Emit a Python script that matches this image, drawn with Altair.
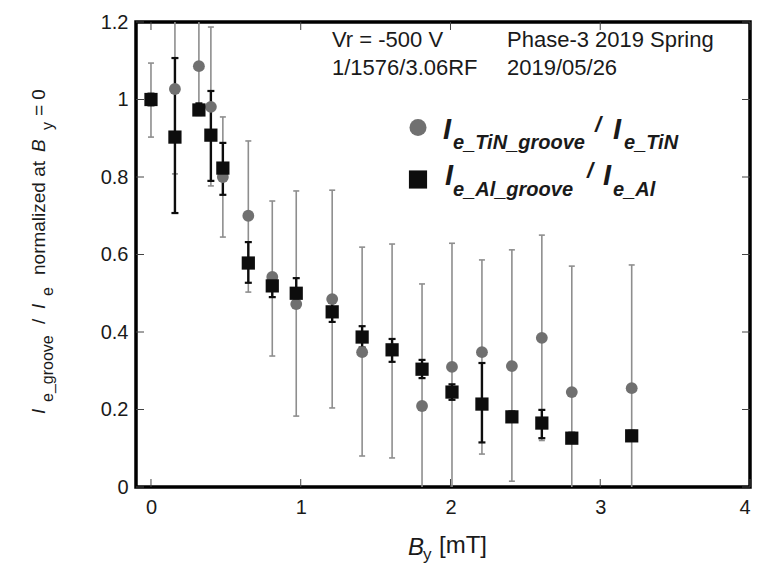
import altair as alt
import pandas as pd

# ---------------- data ----------------
b_y = [0, 0.16, 0.32, 0.40, 0.48, 0.65, 0.81, 0.97, 1.21, 1.41, 1.61, 1.81, 2.01, 2.21, 2.41, 2.61, 2.81, 3.21]

tin = [1.0, 1.027, 1.086, 0.981, 0.80, 0.70, 0.542, 0.472, 0.485, 0.348, 0.355, 0.209, 0.31, 0.348, 0.312, 0.385, 0.245, 0.255]
tin_lo = [0.903, 0.808, 0.96, 0.777, 0.645, 0.503, 0.338, 0.183, 0.204, 0.080, 0.075, -0.10, -0.01, 0.085, 0.015, 0.12, -0.08, -0.06]
tin_hi = [1.094, 1.25, 1.30, 1.187, 0.955, 0.893, 0.738, 0.764, 0.766, 0.619, 0.627, 0.524, 0.629, 0.586, 0.612, 0.65, 0.570, 0.573]

al = [1.0, 0.903, 0.973, 0.908, 0.823, 0.578, 0.519, 0.50, 0.452, 0.387, 0.354, 0.304, 0.245, 0.214, 0.181, 0.165, 0.126, 0.132]
al_lo = [0.985, 0.707, 0.96, 0.79, 0.754, 0.527, 0.49, 0.465, 0.426, 0.36, 0.323, 0.281, 0.225, 0.115, 0.17, 0.126, 0.115, 0.12]
al_hi = [1.015, 1.107, 0.99, 1.022, 0.888, 0.632, 0.545, 0.539, 0.475, 0.415, 0.382, 0.328, 0.265, 0.32, 0.195, 0.199, 0.14, 0.145]

x_ticks = [0, 1, 2, 3, 4]
y_ticks = [0, 0.2, 0.4, 0.6, 0.8, 1.0, 1.2]

# ---------------- styling ----------------
W, H = 614, 465
FONT = "Liberation Sans"
GRAY_PT = "#707070"
GRAY_BAR = "#8e8e8e"
DARK = "#0d0d0d"
TXT = "#1a1a1a"

df = pd.DataFrame(dict(b=b_y, tin=tin, tin_lo=tin_lo, tin_hi=tin_hi,
                       al=al, al_lo=al_lo, al_hi=al_hi))

xs = alt.Scale(domain=[-0.1, 4.0], nice=False, zero=False)
ys = alt.Scale(domain=[0, 1.2], nice=False, zero=False)

x_axis = alt.Axis(values=x_ticks, format="~g", title=None, ticks=False, domain=False,
                  grid=False, labelFontSize=20, labelFont=FONT, labelColor=TXT,
                  labelPadding=10)
y_axis = alt.Axis(values=y_ticks, format="~g", title=None, ticks=False, domain=False,
                  grid=False, labelFontSize=20, labelFont=FONT, labelColor=TXT,
                  labelPadding=8)


def X(f):
    return alt.X(f"{f}:Q", scale=xs, axis=x_axis)


def Y(f):
    return alt.Y(f"{f}:Q", scale=ys, axis=y_axis)


base = alt.Chart(df)

# error bars
tin_bar = base.mark_rule(color=GRAY_BAR, strokeWidth=1.6, clip=True).encode(
    x=X("b"), y=Y("tin_lo"), y2="tin_hi:Q")
tin_cap_lo = base.mark_rule(color=GRAY_BAR, strokeWidth=1.6, xOffset=-3, x2Offset=3, clip=True).encode(
    x=X("b"), x2="b:Q", y=Y("tin_lo"))
tin_cap_hi = base.mark_rule(color=GRAY_BAR, strokeWidth=1.6, xOffset=-3, x2Offset=3, clip=True).encode(
    x=X("b"), x2="b:Q", y=Y("tin_hi"))

al_bar = base.mark_rule(color=DARK, strokeWidth=2.4, clip=True).encode(
    x=X("b"), y=Y("al_lo"), y2="al_hi:Q")
al_cap_lo = base.mark_rule(color=DARK, strokeWidth=2.2, xOffset=-3.5, x2Offset=3.5, clip=True).encode(
    x=X("b"), x2="b:Q", y=Y("al_lo"))
al_cap_hi = base.mark_rule(color=DARK, strokeWidth=2.2, xOffset=-3.5, x2Offset=3.5, clip=True).encode(
    x=X("b"), x2="b:Q", y=Y("al_hi"))

tin_pts = base.mark_point(shape="circle", filled=True, color=GRAY_PT, opacity=1, size=140, clip=True).encode(
    x=X("b"), y=Y("tin"))
al_pts = base.mark_point(shape="square", filled=True, color=DARK, opacity=1, size=175, clip=True).encode(
    x=X("b"), y=Y("al"))

# inward ticks on all four sides
xt = alt.Chart(pd.DataFrame({"t": x_ticks}))
yt = alt.Chart(pd.DataFrame({"t": y_ticks}))
tick_style = dict(color="#444", strokeWidth=1)
ticks = [
    xt.mark_rule(**tick_style).encode(x=X("t"), y=alt.value(H), y2=alt.value(H - 8)),
    xt.mark_rule(**tick_style).encode(x=X("t"), y=alt.value(0), y2=alt.value(8)),
    yt.mark_rule(**tick_style).encode(y=Y("t"), x=alt.value(0), x2=alt.value(8)),
    yt.mark_rule(**tick_style).encode(y=Y("t"), x=alt.value(W), x2=alt.value(W - 8)),
]

one = alt.Chart(pd.DataFrame({"_": [0]}))


def txt(s, x, y, size=22, font=FONT, style="normal", weight="normal", angle=0, color=TXT):
    kw = dict(text=s, font=font, fontSize=size, fontStyle=style, fontWeight=weight,
              align="left", baseline="alphabetic", color=color)
    if angle:
        kw["angle"] = angle
    return one.mark_text(**kw).encode(x=alt.value(x), y=alt.value(y))


texts = [
    # annotation block
    txt("Vr = -500 V", 196, 25),
    txt("1/1576/3.06RF", 196, 53),
    txt("Phase-3 2019 Spring", 371, 25),
    txt("2019/05/26", 371, 53),
    # legend row 1
    txt("I", 307, 117, size=29, style="italic", weight="bold"),
    txt("e_TiN_groove", 317, 127, size=20, style="italic", weight="bold"),
    txt("/", 459, 110, size=22, style="italic", weight="bold"),
    txt("I", 477, 117, size=29, style="italic", weight="bold"),
    txt("e_TiN", 488, 127, size=20, style="italic", weight="bold"),
    # legend row 2
    txt("I", 309, 163, size=29, style="italic", weight="bold"),
    txt("e_Al_groove", 317, 174, size=20, style="italic", weight="bold"),
    txt("/", 451, 156, size=22, style="italic", weight="bold"),
    txt("I", 467, 163, size=29, style="italic", weight="bold"),
    txt("e_Al", 477, 174, size=20, style="italic", weight="bold"),
    # x title
    txt("B", 272, 533, size=24, style="italic"),
    txt("y", 287, 538, size=17),
    txt("[mT]", 303, 531, size=24),
    # y title (rotated)
    txt("I", -91, 392, size=19, style="italic", angle=270),
    txt("e_groove", -83, 380, size=16, angle=270),
    txt("/", -91, 302, size=19, angle=270),
    txt("I", -91, 287, size=19, style="italic", angle=270),
    txt("e", -83, 274, size=16, angle=270),
    txt("normalized at", -91, 253, size=19, angle=270),
    txt("B", -91, 130, size=19, style="italic", angle=270),
    txt("y", -83, 108, size=16, angle=270),
    txt("= 0", -91, 94, size=19, angle=270),
]

legend_pts = [
    one.mark_point(shape="circle", filled=True, color=GRAY_PT, opacity=1, size=290).encode(
        x=alt.value(282), y=alt.value(105.5)),
    one.mark_point(shape="square", filled=True, color=DARK, opacity=1, size=330).encode(
        x=alt.value(282), y=alt.value(157.5)),
]

chart = alt.layer(
    *ticks,
    tin_bar, tin_cap_lo, tin_cap_hi,
    al_bar, al_cap_lo, al_cap_hi,
    tin_pts, al_pts,
    *legend_pts,
    *texts,
).properties(
    width=W, height=H,
    autosize=alt.AutoSizeParams(type="none"),
    padding={"left": 136, "top": 22, "right": 29, "bottom": 76},
    background="white",
).configure_view(stroke="black", strokeWidth=3.5)

chart.save("out.html", embed_options={"renderer": "svg", "actions": False})
